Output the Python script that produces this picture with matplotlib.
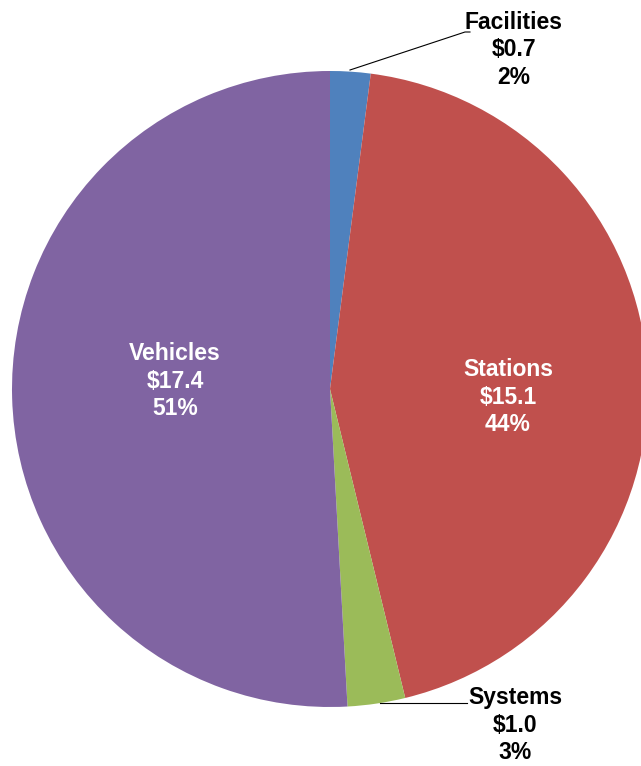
import matplotlib
matplotlib.use("Agg")
import matplotlib.pyplot as plt
from matplotlib import font_manager

categories = ["Facilities", "Stations", "Systems", "Vehicles"]
values = [0.7, 15.1, 1.0, 17.4]
percent_labels = ["2%", "44%", "3%", "51%"]
colors = ["#4F81BD", "#C0504D", "#9BBB59", "#8064A2"]

names = {f.name for f in font_manager.fontManager.ttflist}
fam = "Liberation Sans Narrow" if "Liberation Sans Narrow" in names else "Liberation Sans"

W, H = 641, 766
fig = plt.figure(figsize=(W / 100, H / 100), dpi=100)
ax = fig.add_axes([0, 0, 1, 1])

cx, cy, r = 330, H - 389, 318
ax.pie(values, colors=colors, startangle=90, counterclock=False,
       center=(cx, cy), radius=r, frame=True,
       wedgeprops=dict(linewidth=0.5, edgecolor="none"))
ax.set_xlim(0, W)
ax.set_ylim(0, H)
ax.set_aspect("equal")
ax.axis("off")

def lab(i):
    return f"{categories[i]}\n${values[i]:.1f}\n{percent_labels[i]}"

fs = 16.5
ls = 1.25
# Inside labels
ax.text(175, H - 381, lab(3), ha="center", va="center", color="white",
        fontsize=fs, fontweight="bold", family=fam, linespacing=ls)
ax.text(508, H - 397, lab(1), ha="center", va="center", color="white",
        fontsize=fs, fontweight="bold", family=fam, linespacing=ls)
# Outside labels with leader lines
ax.text(514, H - 50, lab(0), ha="center", va="center", color="black",
        fontsize=fs, fontweight="bold", family=fam, linespacing=ls)
ax.plot([350, 465, 470], [H - 70, H - 32, H - 32], color="black", lw=0.8)
ax.text(515, H - 725, lab(2), ha="center", va="center", color="black",
        fontsize=fs, fontweight="bold", family=fam, linespacing=ls)
ax.plot([380, 467], [H - 703, H - 703], color="black", lw=0.8)

fig.savefig("out.png", dpi=100, facecolor="white")
